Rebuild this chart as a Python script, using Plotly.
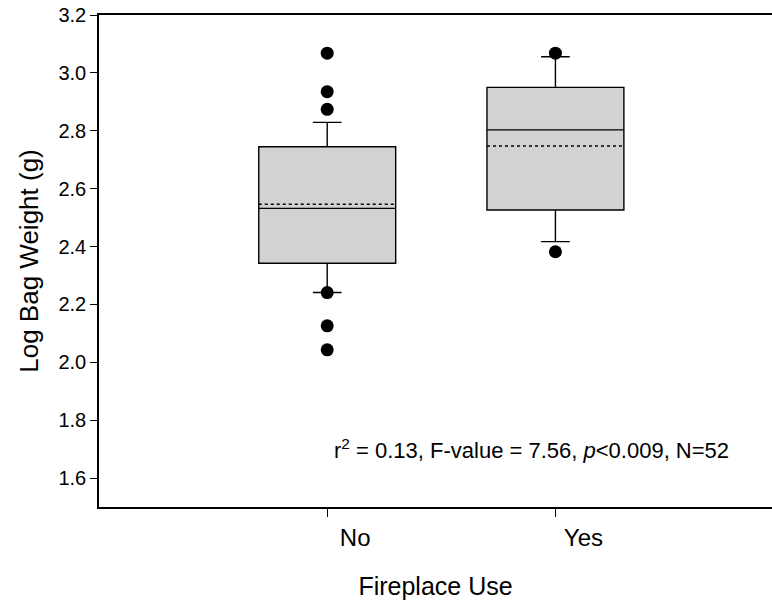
import plotly.graph_objects as go

# Box-plot summary statistics for log bag weight by fireplace use
categories = ["No", "Yes"]
q1 = [2.342, 2.526]
medians = [2.532, 2.803]
q3 = [2.745, 2.950]
lower_whisker = [2.241, 2.417]
upper_whisker = [2.829, 3.056]
means = [2.546, 2.747]

# Individual points beyond the whiskers
outliers_no = [3.068, 2.935, 2.874, 2.241, 2.126, 2.043]
outliers_yes = [3.068, 2.382]

y_ticks = [1.6, 1.8, 2.0, 2.2, 2.4, 2.6, 2.8, 3.0, 3.2]
stats_text = "r<sup>2</sup> = 0.13, F-value = 7.56, <i>p</i>&lt;0.009, N=52"

FONT = "Liberation Sans, Arial, sans-serif"
BOX_WIDTH = 0.6
positions = list(range(len(categories)))

fig = go.Figure()

fig.add_trace(go.Box(
    x=positions,
    q1=q1,
    median=medians,
    q3=q3,
    lowerfence=lower_whisker,
    upperfence=upper_whisker,
    boxpoints=False,
    width=BOX_WIDTH,
    whiskerwidth=0.21,
    fillcolor="#d2d2d2",
    line=dict(color="black", width=1.4),
    showlegend=False,
    hoverinfo="skip",
))

# Dotted mean line across each box
for pos, m in zip(positions, means):
    fig.add_trace(go.Scatter(
        x=[pos - BOX_WIDTH / 2, pos + BOX_WIDTH / 2],
        y=[m, m],
        mode="lines",
        line=dict(color="black", width=1.5, dash="dot"),
        showlegend=False,
        hoverinfo="skip",
    ))

# Outlier markers
for pos, pts in zip(positions, [outliers_no, outliers_yes]):
    fig.add_trace(go.Scatter(
        x=[pos] * len(pts),
        y=pts,
        mode="markers",
        marker=dict(color="black", size=13),
        showlegend=False,
        hoverinfo="skip",
    ))

fig.add_annotation(
    x=0.02, y=1.70, xref="x", yref="y",
    text=stats_text,
    showarrow=False,
    xanchor="left", yanchor="middle",
    font=dict(family=FONT, size=22, color="black"),
)

fig.update_layout(
    width=772,
    height=602,
    margin=dict(l=99, r=0, t=15, b=95),
    paper_bgcolor="white",
    plot_bgcolor="white",
    font=dict(family=FONT, color="black"),
    xaxis=dict(
        range=[-1.0, 1.949],
        tickvals=positions,
        ticktext=categories,
        ticks="outside",
        ticklen=8,
        tickwidth=1.2,
        tickcolor="black",
        ticklabelshift=28,
        tickfont=dict(size=24),
        showline=True,
        linecolor="black",
        linewidth=1.5,
        mirror=True,
        showgrid=False,
        zeroline=False,
        title=dict(text="Fireplace Use", font=dict(size=25), standoff=28),
    ),
    yaxis=dict(
        range=[1.5, 3.2],
        tickvals=y_ticks,
        tickformat=".1f",
        ticks="outside",
        ticklen=7,
        tickwidth=1.2,
        tickcolor="black",
        tickfont=dict(size=20),
        showline=True,
        linecolor="black",
        linewidth=1.5,
        showgrid=False,
        zeroline=False,
        title=dict(text="Log Bag Weight (g)", font=dict(size=26), standoff=12),
    ),
)

fig.write_html("out.html")
